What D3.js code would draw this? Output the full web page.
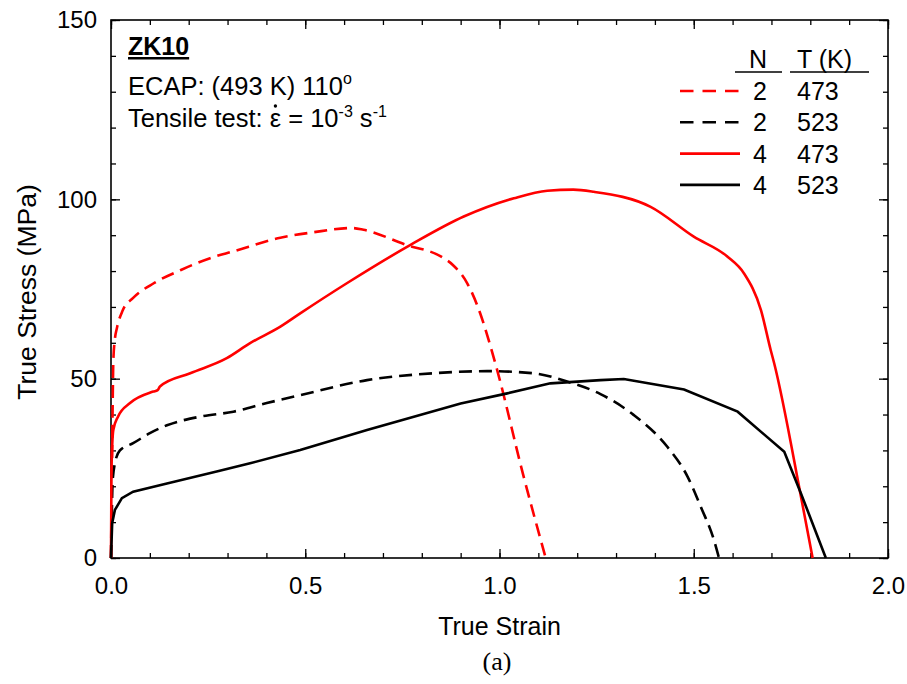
<!DOCTYPE html>
<html>
<head>
<meta charset="utf-8">
<script src="https://cdn.jsdelivr.net/npm/d3@7"></script>
<style>
  body { margin: 0; background: #fff; }
  text { font-family: Arial, "Liberation Sans", sans-serif; fill: #000; }
</style>
</head>
<body>
<script>
// curves: [true strain, true stress (MPa)]
var n2t473 = [[0,0],[0.002,20],[0.004,40],[0.006,55],[0.01,61],[0.015,64],[0.03,69],[0.057,72.5],
  [0.11,76.6],[0.18,80.3],[0.255,83.6],[0.315,85.5],[0.436,89.3],[0.52,90.8],[0.62,92],[0.65,91.5],
  [0.76,87.3],[0.85,84],[0.88,81.7],[0.917,76.6],[0.95,68.3],[0.972,60.8],[0.994,52.4],[1.06,23.6],[1.119,0]];
var n2t523 = [[0,0],[0.002,12],[0.004,21],[0.01,26.4],[0.023,30],[0.057,32],[0.1,34.8],[0.144,37],
  [0.229,39.4],[0.315,40.8],[0.401,43.2],[0.487,45.4],[0.659,49.6],[0.83,51.5],[0.968,52.1],[1.088,51.5],
  [1.174,49.2],[1.26,45.7],[1.345,39.9],[1.432,31],[1.484,22.7],[1.518,14.3],[1.552,5],[1.565,0]];
var n4t473 = [[0,0],[0.001,20],[0.002,28],[0.006,35.7],[0.018,39.4],[0.049,43.2],[0.109,46.4],[0.12,46.8],
  [0.126,47.8],[0.204,51.5],[0.298,55.7],[0.358,59.9],[0.436,64.5],[0.487,68.2],[0.607,76.6],[0.771,87.3],
  [0.908,95.2],[1.037,100.3],[1.123,102.4],[1.19,102.7],[1.243,102.1],[1.389,97.9],[1.5,89.6],[1.587,84],
  [1.629,79.4],[1.673,69.1],[1.698,58],[1.707,54.3],[1.776,17.1],[1.806,0]];
var n4t523 = [[0,0],[0.003,9.7],[0.01,13.4],[0.028,16.7],[0.057,18.5],[0.144,20.8],[0.272,24.1],
  [0.358,26.4],[0.487,30.1],[0.659,35.7],[0.9,43.1],[1.02,45.9],[1.131,48.7],[1.26,49.6],[1.32,49.9],
  [1.475,47],[1.613,40.8],[1.733,29.6],[1.776,18],[1.84,0]];

var passes = ["2", "2", "4", "4"];
var temps = ["473", "523", "473", "523"];
var xTicks = [0, 0.5, 1.0, 1.5, 2.0];
var yTicks = [0, 50, 100, 150];

var series = [
  { n: passes[0], t: temps[0], data: n2t473, color: "#ff0000", dash: "13,7", smooth: true },
  { n: passes[1], t: temps[1], data: n2t523, color: "#000000", dash: "13,7", smooth: true },
  { n: passes[2], t: temps[2], data: n4t473, color: "#ff0000", dash: null, smooth: true },
  { n: passes[3], t: temps[3], data: n4t523, color: "#000000", dash: null, smooth: false }
];

var W = 907, H = 684;
var margin = { left: 111, top: 20, right: 19, bottom: 126 };
var w = W - margin.left - margin.right;
var h = H - margin.top - margin.bottom;

var svg = d3.select("body").append("svg")
  .attr("width", W)
  .attr("height", H);

var g = svg.append("g")
  .attr("transform", "translate(" + margin.left + "," + margin.top + ")");

var x = d3.scaleLinear().domain([0, 2]).range([0, w]);
var y = d3.scaleLinear().domain([0, 150]).range([h, 0]);

//次刻度
var xMinor = d3.range(0, 2.001, 0.1);
var yMinor = d3.range(0, 150.1, 10);

function styleAxis(sel) {
  sel.select(".domain").remove();
  sel.selectAll(".tick line").attr("stroke", "#000").attr("stroke-width", 1.3);
  sel.selectAll("text").style("font-size", "24px").style("font-family", "Arial, 'Liberation Sans', sans-serif");
}

// bottom
g.append("g").attr("transform", "translate(0," + h + ")")
  .call(d3.axisBottom(x).tickValues(xMinor).tickSize(-5).tickFormat(""))
  .call(styleAxis);
g.append("g").attr("transform", "translate(0," + h + ")")
  .call(d3.axisBottom(x).tickValues(xTicks).tickSize(-9).tickPadding(19).tickFormat(d3.format(".1f")))
  .call(styleAxis);
// top
g.append("g")
  .call(d3.axisTop(x).tickValues(xMinor).tickSize(-5).tickFormat(""))
  .call(styleAxis);
g.append("g")
  .call(d3.axisTop(x).tickValues(xTicks).tickSize(-9).tickFormat(""))
  .call(styleAxis);
// left
g.append("g")
  .call(d3.axisLeft(y).tickValues(yMinor).tickSize(-5).tickFormat(""))
  .call(styleAxis);
g.append("g")
  .call(d3.axisLeft(y).tickValues(yTicks).tickSize(-9).tickPadding(14).tickFormat(d3.format("d")))
  .call(styleAxis);
// right
g.append("g").attr("transform", "translate(" + w + ",0)")
  .call(d3.axisRight(y).tickValues(yMinor).tickSize(-5).tickFormat(""))
  .call(styleAxis);
g.append("g").attr("transform", "translate(" + w + ",0)")
  .call(d3.axisRight(y).tickValues(yTicks).tickSize(-9).tickFormat(""))
  .call(styleAxis);

// frame
g.append("rect")
  .attr("width", w).attr("height", h)
  .attr("fill", "none").attr("stroke", "#000").attr("stroke-width", 1.6);

var lineSmooth = d3.line()
  .curve(d3.curveMonotoneX)
  .x(function (d) { return x(d[0]); })
  .y(function (d) { return y(d[1]); });
var lineStraight = d3.line()
  .x(function (d) { return x(d[0]); })
  .y(function (d) { return y(d[1]); });

g.selectAll(".curve")
  .data(series)
  .enter()
  .append("path")
  .attr("class", "curve")
  .attr("d", function (d) { return d.smooth ? lineSmooth(d.data) : lineStraight(d.data); })
  .attr("fill", "none")
  .attr("stroke", function (d) { return d.color; })
  .attr("stroke-width", 2.6)
  .attr("stroke-dasharray", function (d) { return d.dash; });

// axis titles
svg.append("text")
  .attr("x", margin.left + w / 2)
  .attr("y", 635)
  .attr("text-anchor", "middle")
  .style("font-size", "25px")
  .text("True Strain");

svg.append("text")
  .attr("transform", "translate(36,292) rotate(-90)")
  .attr("text-anchor", "middle")
  .style("font-size", "26.5px")
  .text("True Stress (MPa)");

svg.append("text")
  .attr("x", 497)
  .attr("y", 670)
  .attr("text-anchor", "middle")
  .style("font-family", "'Times New Roman', 'Liberation Serif', serif")
  .style("font-size", "26px")
  .text("(a)");

// annotation
var note = svg.append("g");
note.append("text")
  .attr("x", 128).attr("y", 55)
  .style("font-size", "25px").style("font-weight", "bold")
  .style("text-decoration", "underline")
  .text("ZK10");

var t2 = note.append("text").attr("x", 128).attr("y", 95).style("font-size", "25.5px");
t2.append("tspan").text("ECAP: (493 K) 110");
t2.append("tspan").attr("dy", -11).style("font-size", "16px").text("o");

var t3 = note.append("text").attr("x", 128).attr("y", 127).style("font-size", "25.5px");
t3.append("tspan").text("Tensile test: ");
var eps = t3.append("tspan").text("\u03B5");
t3.append("tspan").text(" = 10");
t3.append("tspan").attr("dy", -10).style("font-size", "16px").text("-3");
t3.append("tspan").attr("dy", 10).text(" s");
t3.append("tspan").attr("dy", -10).style("font-size", "16px").text("-1");

// dot over epsilon
var node = t3.node();
var pre = node.getSubStringLength(0, 14);
var ew = node.getSubStringLength(14, 1);
note.append("circle")
  .attr("cx", 128 + pre + ew / 2)
  .attr("cy", 127 - 21)
  .attr("r", 1.7)
  .attr("fill", "#000");

// legend
var leg = svg.append("g");
leg.append("text").attr("x", 758).attr("y", 68).attr("text-anchor", "middle")
  .style("font-size", "25px").text("N");
leg.append("text").attr("x", 797).attr("y", 68)
  .style("font-size", "25px").text("T (K)");
leg.append("line").attr("x1", 735).attr("x2", 782).attr("y1", 72).attr("y2", 72)
  .attr("stroke", "#000").attr("stroke-width", 1.5);
leg.append("line").attr("x1", 790).attr("x2", 869).attr("y1", 72).attr("y2", 72)
  .attr("stroke", "#000").attr("stroke-width", 1.5);

var rows = leg.selectAll(".row")
  .data(series)
  .enter()
  .append("g")
  .attr("class", "row")
  .attr("transform", function (d, i) { return "translate(0," + (100 + i * 31.3) + ")"; });

rows.append("line")
  .attr("x1", 680).attr("x2", 740).attr("y1", -9).attr("y2", -9)
  .attr("stroke", function (d) { return d.color; })
  .attr("stroke-width", 2.6)
  .attr("stroke-dasharray", function (d) { return d.dash ? "13.5,9" : null; });
rows.append("text").attr("x", 760).attr("text-anchor", "middle")
  .style("font-size", "25px").text(function (d) { return d.n; });
rows.append("text").attr("x", 797)
  .style("font-size", "25px").text(function (d) { return d.t; });
</script>
</body>
</html>
